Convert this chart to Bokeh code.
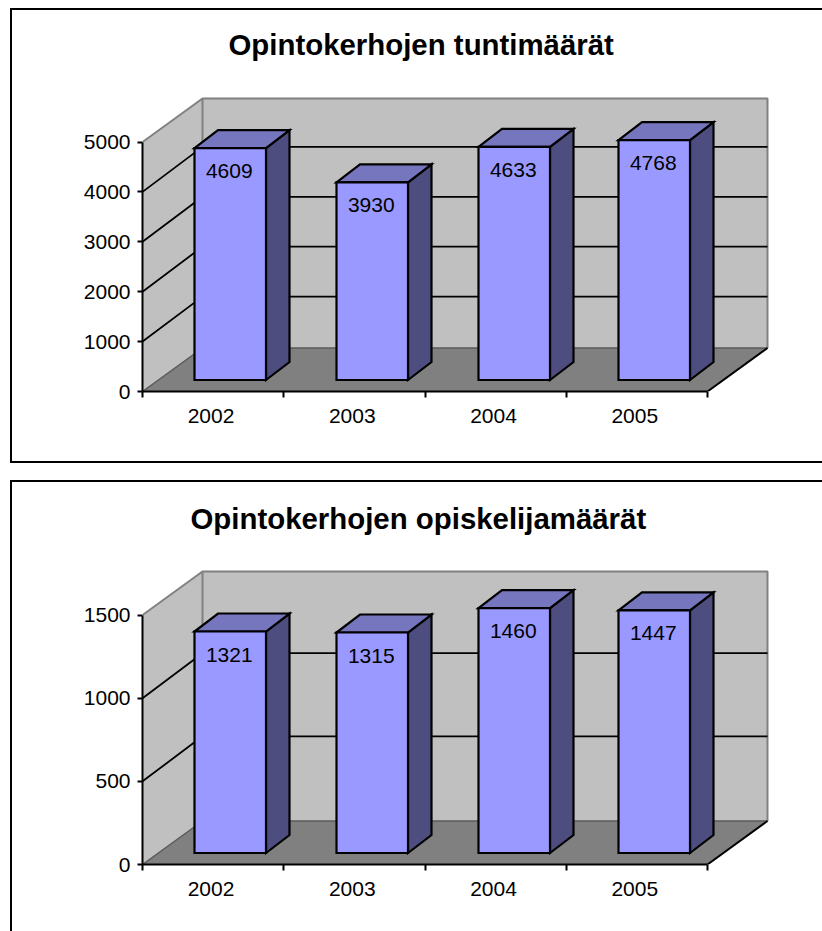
from bokeh.plotting import figure
from bokeh.layouts import column
from bokeh.models import FixedTicker, Range1d, Title
from bokeh.core.properties import value
from bokeh.embed import file_html
from bokeh.resources import INLINE

years = ["2002", "2003", "2004", "2005"]
hours = [4609, 3930, 4633, 4768]
students = [1321, 1315, 1460, 1447]
hours_ticks = [0, 1000, 2000, 3000, 4000, 5000]
students_ticks = [0, 500, 1000, 1500]
title_hours = "Opintokerhojen tuntimäärät"
title_students = "Opintokerhojen opiskelijamäärät"

FONT = "Liberation Sans"
WALL = "#C0C0C0"
FLOOR = "#808080"
EDGE = "#808080"
FRONT = "#9999FF"
TOP = "#7676BE"
SIDE = "#4D4D80"

PX_X = 141.25     # pixels per category
PX_AXIS = 249.5   # pixels of the value axis
BAR_SCALE = 1.008


def panel(years, vals, ticks, title, fig_h, frame_top, frame_h, box_css, title_off, title_standoff, bar_xs):
    ymax = ticks[-1]
    u = ymax / PX_AXIS              # value units per pixel
    n = len(years)
    ddx, ddy = 60 / PX_X, 43.5 * u  # depth of the box
    sdx, sdy = 23.5 / PX_X, 18 * u  # depth of a bar
    base = 11.5 * u
    bw = 71.5 / PX_X
    fw = 680
    p = figure(width=822, height=fig_h, frame_width=fw, frame_height=frame_h,
               toolbar_location=None, output_backend="svg",
               min_border_left=142, min_border_right=0, min_border_top=frame_top,
               min_border_bottom=fig_h - frame_top - frame_h,
               x_range=Range1d(0, fw / PX_X), y_range=Range1d(0, frame_h * u),
               stylesheets=[box_css])
    p.grid.visible = False
    p.outline_line_color = None
    p.background_fill_color = "white"

    # walls and floor
    p.patch([0, ddx, ddx, 0], [0, ddy, ymax + ddy, ymax], fill_color=WALL, line_color=None)
    p.patch([ddx, n + ddx, n + ddx, ddx], [ddy, ddy, ymax + ddy, ymax + ddy], fill_color=WALL, line_color=None)
    p.patch([0, n, n + ddx, ddx], [0, 0, ddy, ddy], fill_color=FLOOR, line_color=None)
    # wall edges
    p.line([0, ddx, n + ddx, n + ddx], [ymax, ymax + ddy, ymax + ddy, ddy], line_color=EDGE, line_width=2)
    p.line([ddx, ddx], [ddy, ymax + ddy], line_color=EDGE, line_width=2)
    p.line([0, ddx, n + ddx], [0, ddy, ddy], line_color="#5A5A5A", line_width=1.5)
    p.line([n, n + ddx], [0, ddy], line_color="black", line_width=2)
    # grid lines
    back = ddy + 1.5 * u
    for t in ticks[1:-1]:
        p.line([0, ddx, n + ddx], [t, t + back, t + back], line_color="black", line_width=1.8)

    # bars
    for px, v, in zip(bar_xs, vals):
        x0 = px / PX_X
        x1 = x0 + bw
        y0 = base
        y1 = base + v * BAR_SCALE
        p.patch([x1, x1 + sdx, x1 + sdx, x1], [y0, y0 + sdy, y1 + sdy, y1],
                fill_color=SIDE, line_color="black", line_width=2.2, line_join="miter")
        p.patch([x0, x1, x1 + sdx, x0 + sdx], [y1, y1, y1 + sdy, y1 + sdy],
                fill_color=TOP, line_color="black", line_width=2.2, line_join="miter")
        p.patch([x0, x1, x1, x0], [y0, y0, y1, y1],
                fill_color=FRONT, line_color="black", line_width=2.2, line_join="miter")
        p.text([(x0 + x1) / 2 - 1 / PX_X], [y1 - 23 * u], text=[str(v)], text_align="center",
               text_baseline="middle", text_font=value(FONT), text_font_size="21px",
               text_color="black")

    # axes
    yax = p.yaxis[0]
    yax.ticker = FixedTicker(ticks=ticks)
    yax.bounds = (0, ymax)
    yax.axis_line_color = "black"
    yax.axis_line_width = 2
    yax.major_tick_line_width = 2
    yax.major_tick_out = 5
    yax.major_tick_in = 0
    yax.minor_tick_line_color = None
    yax.major_label_standoff = 7
    yax.major_label_text_font = FONT
    yax.major_label_text_font_size = "21px"
    yax.major_label_text_color = "black"

    xax = p.xaxis[0]
    centres = [i + 0.485 for i in range(n)]
    xax.ticker = FixedTicker(ticks=centres, minor_ticks=list(range(n + 1)))
    xax.major_label_overrides = {c: y for c, y in zip(centres, years)}
    xax.bounds = (0, n)
    xax.axis_line_color = "black"
    xax.axis_line_width = 2
    xax.major_tick_line_color = None
    xax.major_tick_out = 0
    xax.major_tick_in = 0
    xax.minor_tick_line_color = "black"
    xax.minor_tick_line_width = 2
    xax.minor_tick_out = 6
    xax.minor_tick_in = 0
    xax.major_label_standoff = 11
    xax.major_label_text_font = FONT
    xax.major_label_text_font_size = "21px"
    xax.major_label_text_color = "black"

    p.add_layout(Title(text=title, align="left", offset=title_off, standoff=title_standoff,
                       text_font=FONT, text_font_size="29.4px", text_font_style="bold",
                       text_color="black"), "above")
    return p


css1 = (":host::after { content: ''; position: absolute; left: 9.5px; top: 8px; right: 0; height: 455px;"
        " box-sizing: content-box; border-left: 2.5px solid #000; border-top: 2.5px solid #000;"
        " border-bottom: 2.5px solid #000; z-index: 10; pointer-events: none; }")
css2 = (":host::after { content: ''; position: absolute; left: 9.5px; top: 8px; right: 0; bottom: 0;"
        " border-left: 2.5px solid #000; border-top: 2.5px solid #000; z-index: 10; pointer-events: none; }")

p1 = panel(years, hours, hours_ticks, title_hours, 472, 70, 321, css1, 86, 19, [52, 194, 336, 476])
p2 = panel(years, students, students_ticks, title_students, 459, 73, 319, css2, 48, 22, [52, 194, 336, 476])

layout = column(p1, p2, spacing=0)
open("out.html", "w").write(file_html(layout, INLINE))
